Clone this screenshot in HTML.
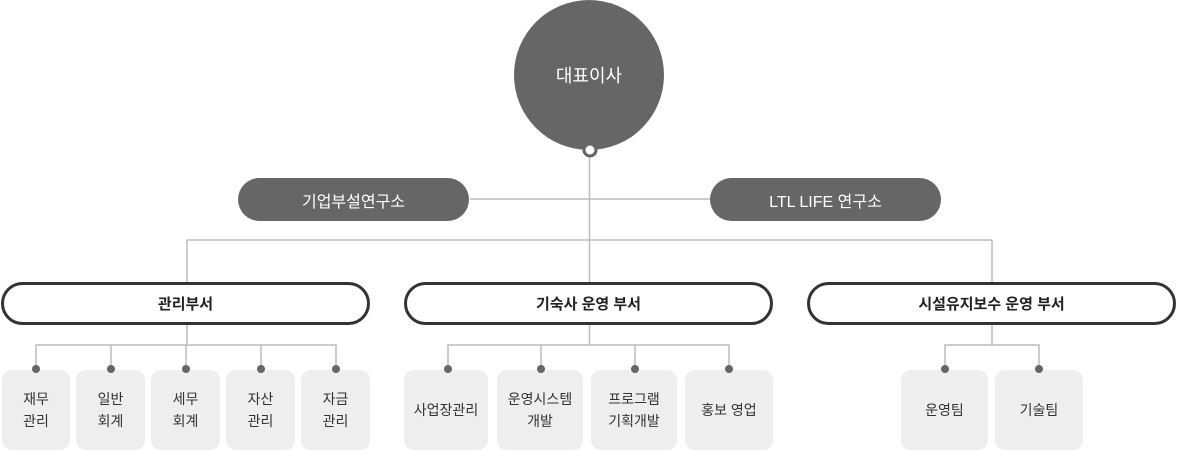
<!DOCTYPE html>
<html><head><meta charset="utf-8"><style>
body{margin:0;width:1180px;height:450px;position:relative;background:#fff;font-family:"Liberation Sans","Noto Sans CJK KR",sans-serif;overflow:hidden}
.a{position:absolute;display:flex;align-items:center;justify-content:center;text-align:center;box-sizing:border-box}
.c{left:514px;top:0;width:150px;height:150px;border-radius:50%;background:#666;color:#fff;font-size:18px}
.p{height:43px;top:178px;width:231px;border-radius:22px;background:#666;color:#fff;font-size:16px}
.d{top:282px;height:43px;border:3px solid #333;border-radius:22px;background:#fff;color:#222;font-size:15px;font-weight:bold}
.b{top:370px;height:80px;border-radius:10px;background:#eee;color:#333;font-size:14px;line-height:22px}
</style></head><body>
<svg width="1180" height="450" style="position:absolute;left:0;top:0">
<g stroke="#bbb" stroke-width="1.5" fill="none">
<line x1="589.5" y1="150" x2="589.5" y2="282"/>
<line x1="470" y1="199" x2="710" y2="199"/>
<line x1="187" y1="240" x2="992" y2="240"/>
<line x1="187" y1="240" x2="187" y2="282"/>
<line x1="992" y1="240" x2="992" y2="282"/>
<line x1="187" y1="325" x2="187" y2="345"/>
<line x1="589.5" y1="325" x2="589.5" y2="345"/>
<line x1="992" y1="325" x2="992" y2="345"/>
<polyline points="36,369 36,345 336,345 336,369"/>
<line x1="111" y1="345" x2="111" y2="369"/>
<line x1="186" y1="345" x2="186" y2="369"/>
<line x1="261" y1="345" x2="261" y2="369"/>
<polyline points="448,369 448,345 729,345 729,369"/>
<line x1="541" y1="345" x2="541" y2="369"/>
<line x1="635" y1="345" x2="635" y2="369"/>
<polyline points="945,369 945,345 1039,345 1039,369"/>
</g>
</svg>
<div class="a c">대표이사</div>
<svg width="1180" height="450" style="position:absolute;left:0;top:0"><circle cx="590" cy="150" r="7.5" fill="#666"/><circle cx="590" cy="150" r="4.5" fill="#fff"/></svg>
<div class="a p" style="left:238px">기업부설연구소</div>
<div class="a p" style="left:710px">LTL LIFE 연구소</div>
<div class="a d" style="left:1px;width:369px">관리부서</div>
<div class="a d" style="left:404px;width:369px">기숙사 운영 부서</div>
<div class="a d" style="left:807px;width:369px">시설유지보수 운영 부서</div>
<div class="a b" style="left:2px;width:68px">재무<br>관리</div>
<div class="a b" style="left:76px;width:69px">일반<br>회계</div>
<div class="a b" style="left:151px;width:69px">세무<br>회계</div>
<div class="a b" style="left:226px;width:69px">자산<br>관리</div>
<div class="a b" style="left:301px;width:69px">자금<br>관리</div>
<div class="a b" style="left:404px;width:84px">사업장관리</div>
<div class="a b" style="left:497px;width:86px">운영시스템<br>개발</div>
<div class="a b" style="left:591px;width:86px">프로그램<br>기획개발</div>
<div class="a b" style="left:685px;width:88px">홍보 영업</div>
<div class="a b" style="left:901px;width:87px">운영팀</div>
<div class="a b" style="left:995px;width:88px">기술팀</div>
<svg width="1180" height="450" style="position:absolute;left:0;top:0">
<g fill="#666">
<circle cx="36" cy="369" r="4"/><circle cx="111" cy="369" r="4"/><circle cx="186" cy="369" r="4"/><circle cx="261" cy="369" r="4"/><circle cx="336" cy="369" r="4"/>
<circle cx="448" cy="369" r="4"/><circle cx="541" cy="369" r="4"/><circle cx="635" cy="369" r="4"/><circle cx="729" cy="369" r="4"/>
<circle cx="945" cy="369" r="4"/><circle cx="1039" cy="369" r="4"/>
</g>
</svg>
</body></html>
